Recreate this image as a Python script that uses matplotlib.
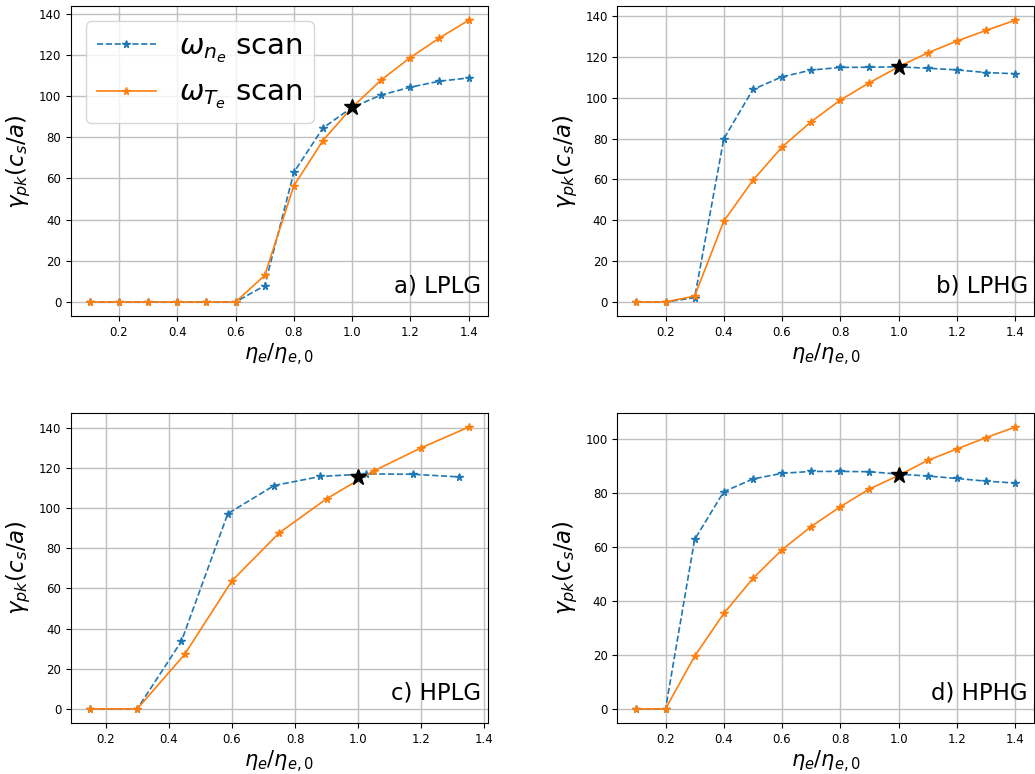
import numpy as np
import matplotlib
matplotlib.use("Agg")
import matplotlib.pyplot as plt

# panel a) LPLG
eta_a = [0.1, 0.2, 0.3, 0.4, 0.5, 0.6, 0.7, 0.8, 0.9, 1.0, 1.1, 1.2, 1.3, 1.4]
gn_a = [0, 0, 0, 0, 0, 0, 7.9, 62.9, 84.5, 94.5, 100.5, 104.3, 107.2, 108.8]
gT_a = [0, 0, 0, 0, 0, 0, 12.9, 56.4, 78.4, 94.5, 107.8, 118.7, 128.2, 136.8]

# panel b) LPHG
eta_b = eta_a
gn_b = [0, 0, 2.1, 79.9, 104.1, 110.3, 113.6, 114.9, 115.0, 115.2, 114.5, 113.7, 112.4, 111.8]
gT_b = [0, 0, 2.9, 39.6, 59.6, 75.9, 88.3, 98.9, 107.4, 115.2, 122.0, 127.8, 133.0, 138.0]

# panel c) HPLG (different eta grid for the two scans)
eta_cn = [0.15, 0.30, 0.44, 0.587, 0.734, 0.88, 1.026, 1.174, 1.32]
gn_c = [0, 0, 33.7, 97.3, 111.3, 115.8, 117.1, 116.9, 115.6]
eta_cT = [0.15, 0.30, 0.45, 0.60, 0.75, 0.90, 1.05, 1.20, 1.35]
gT_c = [0, 0, 27.1, 63.8, 87.7, 104.7, 118.6, 130.1, 140.4]

# panel d) HPHG
eta_d = eta_a
gn_d = [0, 0, 62.7, 80.4, 85.1, 87.2, 87.9, 87.9, 87.8, 86.9, 86.2, 85.3, 84.3, 83.6]
gT_d = [0, 0, 19.5, 35.3, 48.3, 58.9, 67.5, 74.8, 81.4, 86.4, 92.0, 96.2, 100.4, 104.3]

# reference point
ref = [(1.0, 94.5), (1.0, 115.2), (1.0, 115.4), (1.0, 86.7)]
tags = ['a) LPLG', 'b) LPHG', 'c) HPLG', 'd) HPHG']

panels = [
    (eta_a, gn_a, eta_a, gT_a),
    (eta_b, gn_b, eta_b, gT_b),
    (eta_cn, gn_c, eta_cT, gT_c),
    (eta_d, gn_d, eta_d, gT_d),
]

fig, axs = plt.subplots(2, 2, figsize=(10.35, 7.74), dpi=100)
plt.subplots_adjust(left=0.0686, right=0.999, top=0.992, bottom=0.066,
                    wspace=0.312, hspace=0.313)

for i, ax in enumerate(axs.flat):
    xn, yn, xT, yT = panels[i]
    ax.plot(xn, yn, '--*', color='tab:blue', lw=1.2, ms=5.5,
            label=r'$\omega_{n_e}$ scan')
    ax.plot(xT, yT, '-*', color='tab:orange', lw=1.2, ms=5.5,
            label=r'$\omega_{T_e}$ scan')
    ax.plot(ref[i][0], ref[i][1], 'k*', ms=12, zorder=5)
    ax.grid(True, lw=1.0, color='#c0c0c0')
    ax.set_axisbelow(True)
    ax.set_xticks([0.2, 0.4, 0.6, 0.8, 1.0, 1.2, 1.4])
    ax.set_xlim(ax.get_xlim())
    ax.tick_params(labelsize=8.5)
    ax.set_xlabel(r'$\eta_e/\eta_{e,0}$', fontsize=15, labelpad=2)
    ax.set_ylabel(r'$\gamma_{pk}(c_s/a)$', fontsize=16.5)
    ax.text(0.985, 0.075, tags[i], transform=ax.transAxes, ha='right',
            va='baseline', fontsize=16.5)
    if i == 0:
        ax.legend(loc='upper left', fontsize=21)

fig.savefig('out.png', dpi=100)
